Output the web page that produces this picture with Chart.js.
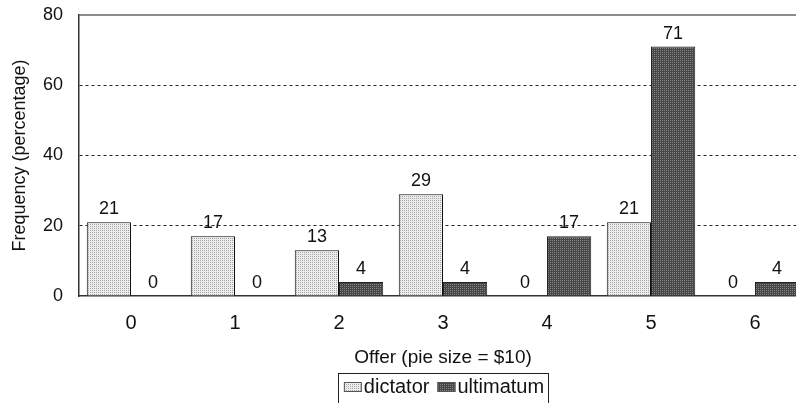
<!DOCTYPE html>
<html>
<head>
<meta charset="utf-8">
<script src="https://cdn.jsdelivr.net/npm/chart.js@4/dist/chart.umd.min.js"></script>
<style>
  html, body { margin: 0; padding: 0; background: #fff; overflow: hidden; }
  #wrap { width: 830px; height: 403px; }
</style>
</head>
<body>
<div id="wrap"><canvas id="myChart"></canvas></div>
<script>
// data
var offers = ["0", "1", "2", "3", "4", "5", "6"];
var dictator = [21, 17, 13, 29, 0, 21, 0];
var ultimatum = [0, 0, 4, 4, 17, 71, 4];
var yMax = 80;
var yStep = 20;

var FONT = '"Liberation Sans", Arial, sans-serif';

// stippled fills like the printed figure
function stipple(base, dot) {
    var c = document.createElement('canvas');
    c.width = 4; c.height = 4;
    var g = c.getContext('2d');
    g.fillStyle = base;
    g.fillRect(0, 0, 4, 4);
    g.fillStyle = dot;
    g.fillRect(0, 0, 1, 1);
    g.fillRect(2, 2, 1, 1);
    g.fillRect(2, 0, 1, 1);
    g.fillRect(0, 2, 1, 1);
    return g.createPattern(c, 'repeat');
}
var lightFill = stipple('#ececec', '#a8a8a8');
var darkFill = stipple('#474747', '#858585');

// numbers on top of the bars
var valueLabels = {
    id: 'valueLabels',
    afterDatasetsDraw: function(chart) {
        var ctx = chart.ctx;
        ctx.save();
        ctx.font = '18px ' + FONT;
        ctx.fillStyle = '#111';
        ctx.textAlign = 'center';
        ctx.textBaseline = 'bottom';
        chart.data.datasets.forEach(function(ds, i) {
            chart.getDatasetMeta(i).data.forEach(function(bar, j) {
                ctx.fillText(ds.data[j], bar.x, bar.y - 4);
            });
        });
        ctx.restore();
    }
};

// solid top edge of the plot + boxed legend under the axis title
var frames = {
    id: 'frames',
    afterDraw: function(chart) {
        var a = chart.chartArea, ctx = chart.ctx;
        ctx.save();
        ctx.strokeStyle = '#666';
        ctx.lineWidth = 1.5;
        ctx.beginPath();
        ctx.moveTo(a.left, a.top);
        ctx.lineTo(a.right, a.top);
        ctx.stroke();

        // legend
        ctx.font = '20px ' + FONT;
        var items = chart.data.datasets.map(function(ds) {
            return { text: ds.label, fill: ds.backgroundColor, w: ctx.measureText(ds.label).width };
        });
        var sq = 18, gap = 2, between = 8, padL = 6, padR = 4;
        var total = padL + padR;
        items.forEach(function(it, i) { total += sq + gap + it.w + (i ? between : 0); });
        var x = (a.left + a.right) / 2 - total / 2;
        var top = a.bottom + 77;
        ctx.strokeStyle = '#222';
        ctx.lineWidth = 1;
        ctx.strokeRect(Math.round(x) + 0.5, top + 0.5, Math.round(total), 40);
        var cx = x + padL, cy = top + 14;
        ctx.textBaseline = 'middle';
        ctx.textAlign = 'left';
        items.forEach(function(it) {
            ctx.fillStyle = it.fill;
            ctx.fillRect(cx, cy - 5, sq, 10);
            ctx.strokeStyle = '#555';
            ctx.strokeRect(cx + 0.5, cy - 5 + 0.5, sq - 1, 9);
            ctx.fillStyle = '#111';
            ctx.fillText(it.text, cx + sq + gap, cy);
            cx += sq + gap + it.w + between;
        });
        ctx.restore();
    }
};

var ctx = document.getElementById('myChart').getContext('2d');
var chart = new Chart(ctx, {
    type: 'bar',
    data: {
        labels: offers,
        datasets: [{
            label: 'dictator',
            data: dictator,
            backgroundColor: lightFill,
            borderColor: '#111',
            borderWidth: 1,
            borderSkipped: 'bottom'
        }, {
            label: 'ultimatum',
            data: ultimatum,
            backgroundColor: darkFill,
            borderColor: '#222',
            borderWidth: 1,
            borderSkipped: 'bottom'
        }]
    },
    options: {
        responsive: true,
        maintainAspectRatio: false,
        animation: false,
        datasets: { bar: { categoryPercentage: 0.85, barPercentage: 1.0 } },
        layout: { autoPadding: false, padding: { top: 15, right: 23, left: 0, bottom: 34 } },
        plugins: {
            tooltip: { enabled: false },
            legend: { display: false }
        },
        scales: {
            x: {
                grid: { display: false, drawTicks: false },
                border: { color: '#333', width: 1.5 },
                ticks: {
                    color: '#111',
                    padding: 15,
                    font: { size: 20, family: FONT }
                },
                title: {
                    display: true,
                    text: 'Offer (pie size = $10)',
                    color: '#111',
                    padding: { top: 4, bottom: 0 },
                    font: { size: 19, family: FONT }
                },
                afterFit: function(scale) { scale.height = 73; }
            },
            y: {
                min: 0,
                max: yMax,
                grid: {
                    drawTicks: false,
                    color: function(c) {
                        return c.tick && (c.tick.value === yMax || c.tick.value === 0) ? 'rgba(0,0,0,0)' : '#222';
                    },
                    lineWidth: 1
                },
                border: {
                    color: '#333',
                    width: 1.5,
                    dash: [3, 3]
                },
                ticks: {
                    stepSize: yStep,
                    color: '#111',
                    padding: 16,
                    font: { size: 18, family: FONT }
                },
                title: {
                    display: true,
                    text: 'Frequency (percentage)',
                    color: '#111',
                    padding: { top: 9, bottom: 0 },
                    font: { size: 18, family: FONT }
                },
                afterFit: function(scale) {
                    scale.width = 79;
                    // the plot top is set by layout.padding, not by the tick labels
                    scale.paddingTop = 0;
                    scale.paddingBottom = 0;
                }
            }
        }
    },
    plugins: [valueLabels, frames]
});
</script>
</body>
</html>
